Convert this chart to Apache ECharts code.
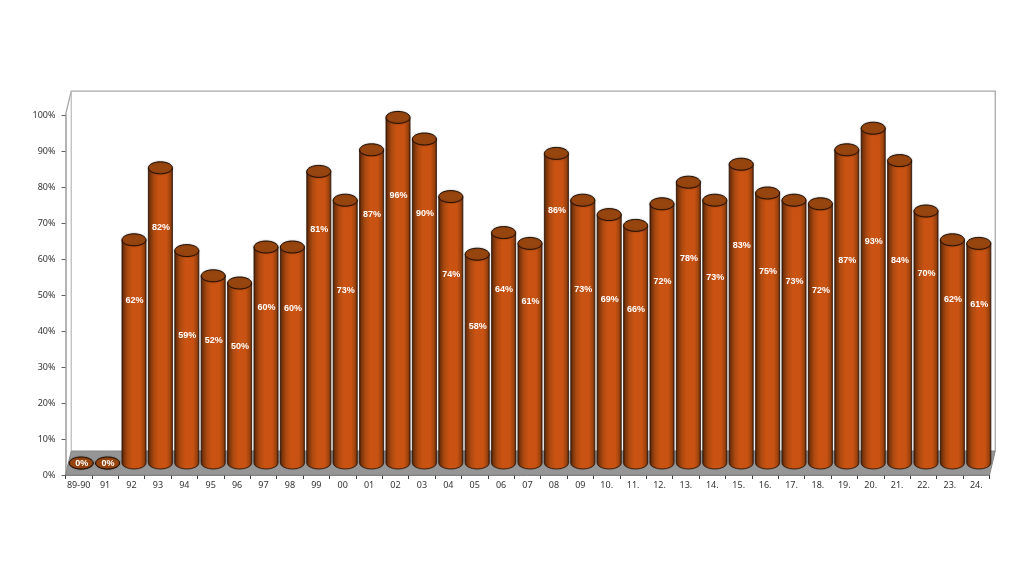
<!DOCTYPE html>
<html>
<head>
<meta charset="utf-8">
<style>html,body{margin:0;padding:0;background:#fff}#c{width:1024px;height:576px}</style>
<script src="https://cdn.jsdelivr.net/npm/echarts@6/dist/echarts.min.js"></script>
</head>
<body>
<div id="c"></div>
<script>
var categories = ['89-90','91','92','93','94','95','96','97','98','99','00','01','02','03','04','05','06','07','08','09','10.','11.','12.','13.','14.','15.','16.','17.','18.','19.','20.','21.','22.','23.','24.'];
var values = [0,0,62,82,59,52,50,60,60,81,73,87,96,90,74,58,64,61,86,73,69,66,72,78,73,83,75,73,72,87,93,84,70,62,61];
// height on the percent scale at which each data label sits in the picture
var labelLevels = [0,0,45.3,65.8,35.6,34.4,32.5,43.5,43.3,65,48.3,69.2,74.7,69.7,52.5,38.3,48.6,45,70.3,48.6,45.7,43,50.6,57.1,51.8,60.8,53.5,50.6,48.3,56.4,61.9,56.4,53,45.8,44.2];
var yTicks = {min:0,max:100,interval:10};

var DEPTH_X = 5.75, DEPTH_Y = 24, MID_X = 2.5, MID_Y = 12, RX = 12, RY = 6;
var chart = echarts.init(document.getElementById('c'), null, {renderer:'canvas'});

function frame(params){
  var c = params.coordSys, l = c.x, r = c.x + c.width, t = c.y, b = c.y + c.height;
  var wall = {stroke:'#a6a6a6', fill:null, lineWidth:1.25};
  return {type:'group', children:[
    {type:'polyline', shape:{points:[[l,t],[l+DEPTH_X,t-DEPTH_Y],[r+DEPTH_X,t-DEPTH_Y],[r+DEPTH_X,b-DEPTH_Y]]}, style:wall},
    {type:'line', shape:{x1:l+DEPTH_X,y1:t-DEPTH_Y,x2:l+DEPTH_X,y2:b-DEPTH_Y}, style:{stroke:'#bcbcbc',lineWidth:1.25}},
    {type:'polygon', shape:{points:[[l,b],[l+DEPTH_X,b-DEPTH_Y],[r+DEPTH_X,b-DEPTH_Y],[r,b]]}, style:{fill:'#969696',stroke:'#858585',lineWidth:1}}
  ]};
}
function cylinder(params, api){
  var base = api.coord([api.value(0), 0]), top = api.coord([api.value(0), api.value(1)]);
  var cx = base[0] + MID_X, yb = base[1] - MID_Y, yt = top[1] - MID_Y;
  var x0 = cx - RX, x1 = cx + RX;
  var body = 'M'+x0+' '+yt+' L'+x0+' '+yb+' A'+RX+' '+RY+' 0 0 0 '+x1+' '+yb+' L'+x1+' '+yt+' Z';
  var grad = new echarts.graphic.LinearGradient(0,0,1,0,[
    {offset:0,color:'#4a2006'},{offset:0.1,color:'#7d360b'},{offset:0.25,color:'#ad4a10'},
    {offset:0.45,color:'#ca5312'},{offset:0.75,color:'#c85212'},{offset:0.9,color:'#9c430e'},{offset:1,color:'#63290a'}]);
  return {type:'group', children:[
    {type:'path', shape:{pathData:body}, style:{fill:grad,stroke:'#33180a',lineWidth:0.8,shadowBlur:1,shadowColor:'rgba(0,0,0,0.25)'}},
    {type:'ellipse', shape:{cx:cx,cy:yt,rx:RX,ry:RY}, style:{fill:'#97450f',stroke:'#1f0e03',lineWidth:1,shadowBlur:2,shadowColor:'rgba(0,0,0,0.25)'}}
  ]};
}
function barLabel(params, api){
  var p = api.coord([api.value(0), api.value(1)]);
  return {type:'text', x:p[0]+MID_X+0.5, y:p[1]-MID_Y+1, style:{text:api.value(2)+'%',fill:'#fff',font:'bold 9px "Liberation Sans"',textAlign:'center',textVerticalAlign:'middle'}};
}

chart.setOption({
  animation:false,
  backgroundColor:'#fff',
  grid:{left:65.5,width:924,top:115,height:360},
  xAxis:{type:'category',data:categories,boundaryGap:true,
    axisLine:{lineStyle:{color:'#808080'}},axisTick:{show:true,length:4,lineStyle:{color:'#404040'},interval:0},
    axisLabel:{interval:0,margin:6,fontSize:9,color:'#333',fontFamily:'Noto Sans'}},
  yAxis:{type:'value',min:yTicks.min,max:yTicks.max,interval:yTicks.interval,
    axisLine:{show:true,lineStyle:{color:'#9a9a9a',width:1.5}},axisTick:{show:true,length:4,lineStyle:{color:'#606060'}},splitLine:{show:false},
    axisLabel:{formatter:'{value}%',margin:10,fontSize:9,color:'#333',fontFamily:'Noto Sans'}},
  series:[
    {type:'custom',name:'frame',z:1,silent:true,clip:false,data:[[0,0]],renderItem:frame},
    {type:'custom',name:'bars',z:2,clip:false,encode:{x:0,y:1},data:values.map(function(v,i){return [i,v];}),renderItem:cylinder},
    {type:'custom',name:'labels',z:3,clip:false,silent:true,encode:{x:0,y:1},data:labelLevels.map(function(l,i){return [i,l,values[i]];}),renderItem:barLabel}
  ]
});
</script>
</body>
</html>
